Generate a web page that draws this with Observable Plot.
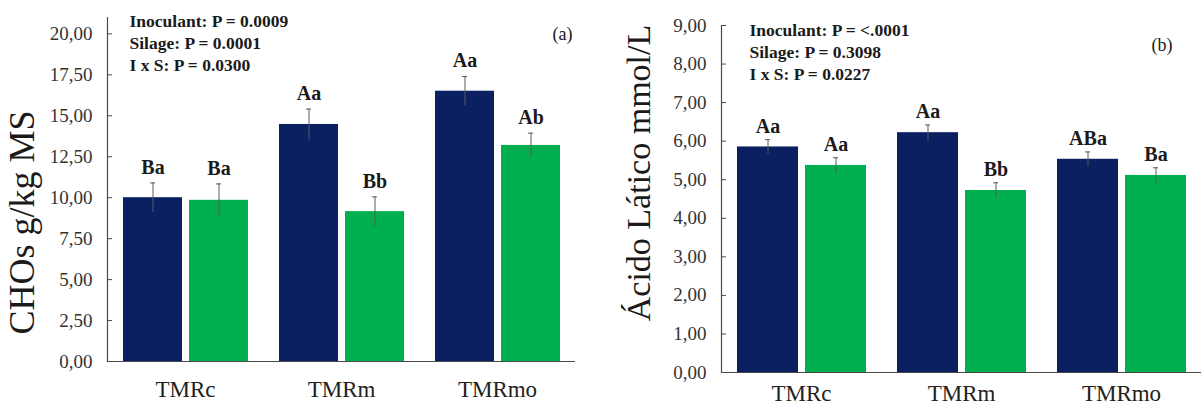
<!DOCTYPE html>
<html>
<head>
<meta charset="utf-8">
<script src="https://cdn.jsdelivr.net/npm/d3@7"></script>
<script src="https://cdn.jsdelivr.net/npm/@observablehq/plot@0.6"></script>
<style>
  html, body { margin: 0; padding: 0; background: #fff; }
  #wrap { display: flex; width: 1201px; height: 408px; overflow: hidden; }
  #wrap svg { display: block; }
  #wrap svg text { font-family: "Liberation Serif", "Times New Roman", serif; }
</style>
</head>
<body>
<div id="wrap"></div>
<script>
// Treatments and silage groups
const categories = ["TMRc", "TMRm", "TMRmo"];
const groups = ["inoculated", "control"];
const groupColors = ["#0b2060", "#00b04f"];

// (a) water-soluble carbohydrates, g/kg DM
const chosInoc = [10.0, 14.47, 16.5];
const chosInocErr = [0.9, 0.94, 0.9];
const chosInocLetters = ["Ba", "Aa", "Aa"];
const chosCtrl = [9.84, 9.15, 13.19];
const chosCtrlErr = [1.0, 0.9, 0.75];
const chosCtrlLetters = ["Ba", "Bb", "Ab"];
const chosTicks = [0, 2.5, 5, 7.5, 10, 12.5, 15, 17.5, 20];
const chosStats = ["Inoculant: P = 0.0009", "Silage: P = 0.0001", "I x S: P = 0.0300"];

// (b) lactic acid, mmol/L
const lacInoc = [5.85, 6.22, 5.53];
const lacInocErr = [0.19, 0.2, 0.19];
const lacInocLetters = ["Aa", "Aa", "ABa"];
const lacCtrl = [5.37, 4.72, 5.11];
const lacCtrlErr = [0.2, 0.2, 0.2];
const lacCtrlLetters = ["Aa", "Bb", "Ba"];
const lacTicks = [0, 1, 2, 3, 4, 5, 6, 7, 8, 9];
const lacStats = ["Inoculant: P = <.0001", "Silage: P = 0.3098", "I x S: P = 0.0227"];

function rows(inoc, inocErr, inocLet, ctrl, ctrlErr, ctrlLet) {
  const out = [];
  categories.forEach((c, i) => {
    out.push({cat: c, group: groups[0], value: inoc[i], err: inocErr[i], letter: inocLet[i]});
    out.push({cat: c, group: groups[1], value: ctrl[i], err: ctrlErr[i], letter: ctrlLet[i]});
  });
  return out;
}

const comma = d => d.toFixed(2).replace(".", ",");

function panel(o) {
  const data = o.data;
  return Plot.plot({
    width: o.width,
    height: 408,
    marginLeft: o.marginLeft,
    marginRight: o.marginRight,
    marginTop: o.marginTop,
    marginBottom: o.marginBottom,
    style: {fontFamily: "'Liberation Serif', 'Times New Roman', serif", background: "#fff", color: "#222"},
    fx: {domain: categories, padding: 0, label: null},
    x: {domain: groups, paddingInner: 0.11, paddingOuter: 0.23, axis: null},
    y: {domain: o.yDomain, axis: null},
    color: {domain: groups, range: groupColors},
    marks: [
      Plot.barY(data, {fx: "cat", x: "group", y: "value", fill: "group"}),
      Plot.ruleX(data, {fx: "cat", x: "group", y1: d => d.value - d.err, y2: d => d.value + d.err, stroke: "#5a5a5a", strokeWidth: 1}),
      Plot.tickY(data, {fx: "cat", x: "group", y: d => d.value + d.err, stroke: "#5a5a5a", strokeWidth: 1, insetLeft: o.capInset, insetRight: o.capInset}),
      Plot.text(data, {fx: "cat", x: "group", y: d => d.value + d.err, text: "letter", dy: o.letterDy, lineAnchor: "bottom", fontSize: 20, fontWeight: "bold", fill: "#1a1a1a"}),
      Plot.ruleY([0], {stroke: "#4a4a4a", strokeWidth: 1.2}),
      Plot.frame({anchor: "left", facetAnchor: "left", stroke: "#4a4a4a", strokeWidth: 1.2}),
      // inward tick marks along the value axis
      Plot.axisY({ticks: o.ticks, tickSize: 5, dx: 5, text: null, label: null, stroke: "#4a4a4a"}),
      Plot.axisY({ticks: o.ticks, tickSize: 0, tickPadding: o.tickPadding, tickFormat: comma, fontSize: 19, fill: "#333", label: null}),
      Plot.axisFx({anchor: "bottom", tickSize: 0, tickPadding: o.fxPadding, fontSize: 23, fill: "#222", label: null}),
      Plot.text([{cat: "TMRc", t: o.stats.join("\n")}], {fx: "cat", text: "t", frameAnchor: "top-left", textAnchor: "start", lineAnchor: "top", dx: o.statsDx, dy: o.statsDy, lineHeight: 1.25, fontSize: 17.5, fontWeight: "bold", fill: "#1a1a1a"}),
      Plot.text([{cat: "TMRmo", t: o.tag}], {fx: "cat", text: "t", frameAnchor: "top-right", textAnchor: "end", lineAnchor: "middle", dx: o.tagDx, dy: o.tagDy, fontSize: 18, fill: "#1a1a1a"}),
      Plot.text([{cat: "TMRc", t: o.title}], {fx: "cat", text: "t", frameAnchor: "left", rotate: -90, textAnchor: "middle", lineAnchor: "middle", dx: o.titleDx, dy: o.titleDy, fontSize: o.titleSize, fill: "#1a1a1a"})
    ]
  });
}

const wrap = document.getElementById("wrap");

wrap.append(panel({
  data: rows(chosInoc, chosInocErr, chosInocLetters, chosCtrl, chosCtrlErr, chosCtrlLetters),
  width: 600, marginLeft: 106, marginRight: 25, marginTop: 17, marginBottom: 47,
  yDomain: [0, 21], ticks: chosTicks, tickPadding: 15, fxPadding: 19,
  capInset: 27, letterDy: -9,
  stats: chosStats, statsDx: 22, statsDy: -6,
  tag: "(a)", tagDx: -3, tagDy: 17,
  title: "CHOs g/kg MS", titleSize: 36, titleDx: -85, titleDy: 33
}));

wrap.append(panel({
  data: rows(lacInoc, lacInocErr, lacInocLetters, lacCtrl, lacCtrlErr, lacCtrlLetters),
  width: 601, marginLeft: 121, marginRight: 0, marginTop: 25, marginBottom: 36,
  yDomain: [0, 9], ticks: lacTicks, tickPadding: 15, fxPadding: 12,
  capInset: 28, letterDy: -7,
  stats: lacStats, statsDx: 28, statsDy: -5,
  tag: "(b)", tagDx: -29, tagDy: 20,
  title: "Ácido Lático mmol/L", titleSize: 34, titleDx: -82, titleDy: -26
}));
</script>
</body>
</html>
